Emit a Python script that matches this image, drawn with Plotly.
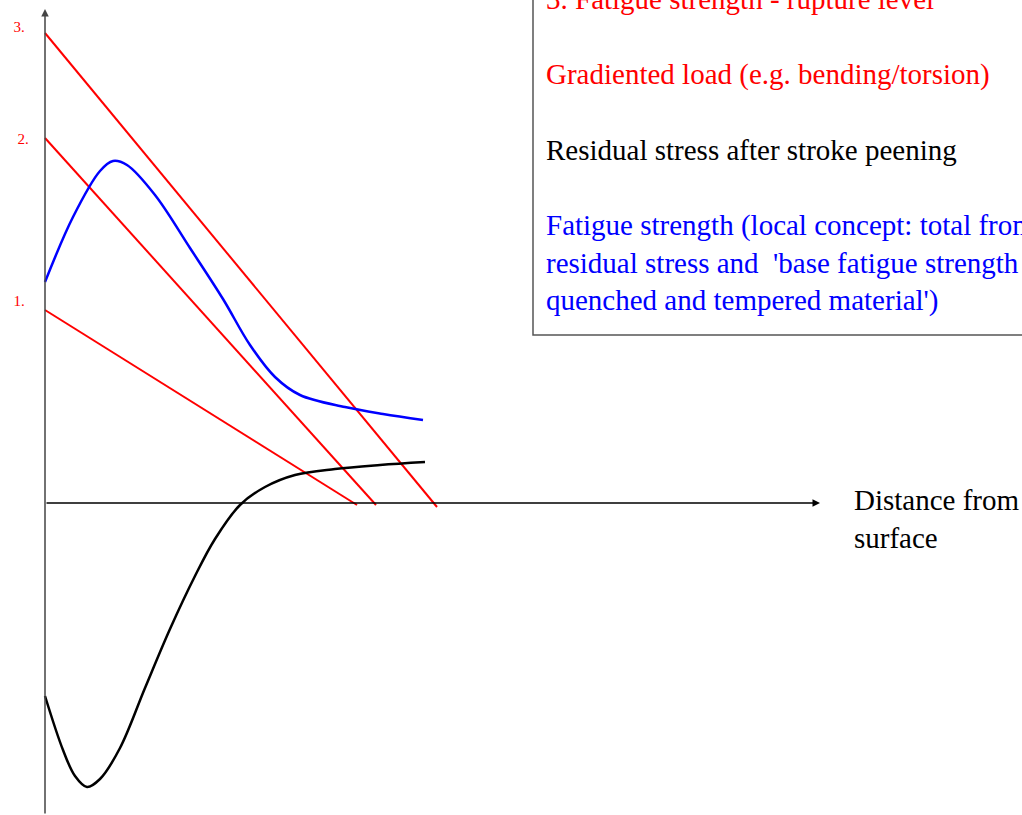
import plotly.graph_objects as go

# ---- data (x: distance from surface, y: stress; arbitrary units, origin at axis crossing) ----
red_line_labels = ["1.", "2.", "3."]
red_x_start = [0, 0, 0]
red_y_start = [193, 365, 470]
red_x_end = [312, 331, 392]
red_y_end = [-2, -2, -4]

blue_x = [0, 28, 55, 68, 82, 110, 145, 178, 205, 230, 255, 300, 338, 378]
blue_y = [221, 286, 332, 342, 338, 308, 255, 204, 158, 126, 108, 96, 89, 83]

black_x = [0, 18, 30, 42, 55, 75, 100, 125, 150, 170, 195, 220, 250, 290, 335, 380]
black_y = [-193, -247, -273, -284, -276, -245, -185, -126, -73, -36, -2, 16, 28, 34, 38, 41]

label_x = [-26, -22, -26]
label_y = [201, 363, 475]

legend_lines = [
    ("3. Fatigue strength - rupture level", "#ff0000"),
    ("Gradiented load (e.g. bending/torsion)", "#ff0000"),
    ("Residual stress after stroke peening", "#000000"),
    ("Fatigue strength (local concept: total from<br>residual stress and  'base fatigue strength<br>quenched and tempered material')", "#0000ff"),
]
axis_label = "Distance from<br>surface"

W, H = 1022, 815
X_RANGE = [-45, 977]
Y_RANGE = [-312, 503]
FONT = "Liberation Serif, Times New Roman, serif"

fig = go.Figure()

for i in range(3):
    fig.add_trace(go.Scatter(
        x=[red_x_start[i], red_x_end[i]], y=[red_y_start[i], red_y_end[i]],
        mode="lines", line=dict(color="#ff0000", width=2), hoverinfo="skip"))

fig.add_trace(go.Scatter(x=blue_x, y=blue_y, mode="lines",
                         line=dict(color="#0000ff", width=2.5, shape="spline", smoothing=1.0),
                         hoverinfo="skip"))
fig.add_trace(go.Scatter(x=black_x, y=black_y, mode="lines",
                         line=dict(color="#000000", width=2.5, shape="spline", smoothing=1.0),
                         hoverinfo="skip"))

fig.add_trace(go.Scatter(x=label_x, y=label_y, mode="text", text=red_line_labels,
                         textfont=dict(family=FONT, size=15, color="#ff0000"),
                         hoverinfo="skip"))

annotations = []
# axes with arrows
annotations.append(dict(x=0, y=494, ax=0, ay=Y_RANGE[0], xref="x", yref="y", axref="x", ayref="y",
                        text="", showarrow=True, arrowhead=2, arrowsize=1, arrowwidth=1.5,
                        arrowcolor="#444444"))
annotations.append(dict(x=775, y=0, ax=0, ay=0, xref="x", yref="y", axref="x", ayref="y",
                        text="", showarrow=True, arrowhead=2, arrowsize=1, arrowwidth=1.5,
                        arrowcolor="#000000"))

def px(xp):
    return xp / W

def py(yp):
    return 1 - yp / H

legend_y_centers = [-1, 74, 150, 263]
for (txt, col), yc in zip(legend_lines, legend_y_centers):
    annotations.append(dict(x=px(544), y=py(yc), xref="paper", yref="paper", text=txt,
                            showarrow=False, xanchor="left", yanchor="middle", align="left",
                            font=dict(family=FONT, size=29, color=col)))

annotations.append(dict(x=px(852), y=py(519), xref="paper", yref="paper", text=axis_label,
                        showarrow=False, xanchor="left", yanchor="middle", align="left",
                        font=dict(family=FONT, size=29, color="#000000")))

fig.update_layout(
    width=W, height=H, margin=dict(l=0, r=0, t=0, b=0),
    paper_bgcolor="white", plot_bgcolor="white", showlegend=False,
    xaxis=dict(range=X_RANGE, visible=False, fixedrange=True),
    yaxis=dict(range=Y_RANGE, visible=False, fixedrange=True),
    annotations=annotations,
    shapes=[dict(type="rect", xref="paper", yref="paper", x0=px(533), x1=1.05, y0=py(335), y1=1.05,
                 line=dict(color="#555555", width=1.5), fillcolor="rgba(0,0,0,0)", layer="below")],
)

fig.write_html("out.html", config={"displayModeBar": False, "staticPlot": True},
               post_script="document.body.style.margin='0';document.body.style.overflow='hidden';")
